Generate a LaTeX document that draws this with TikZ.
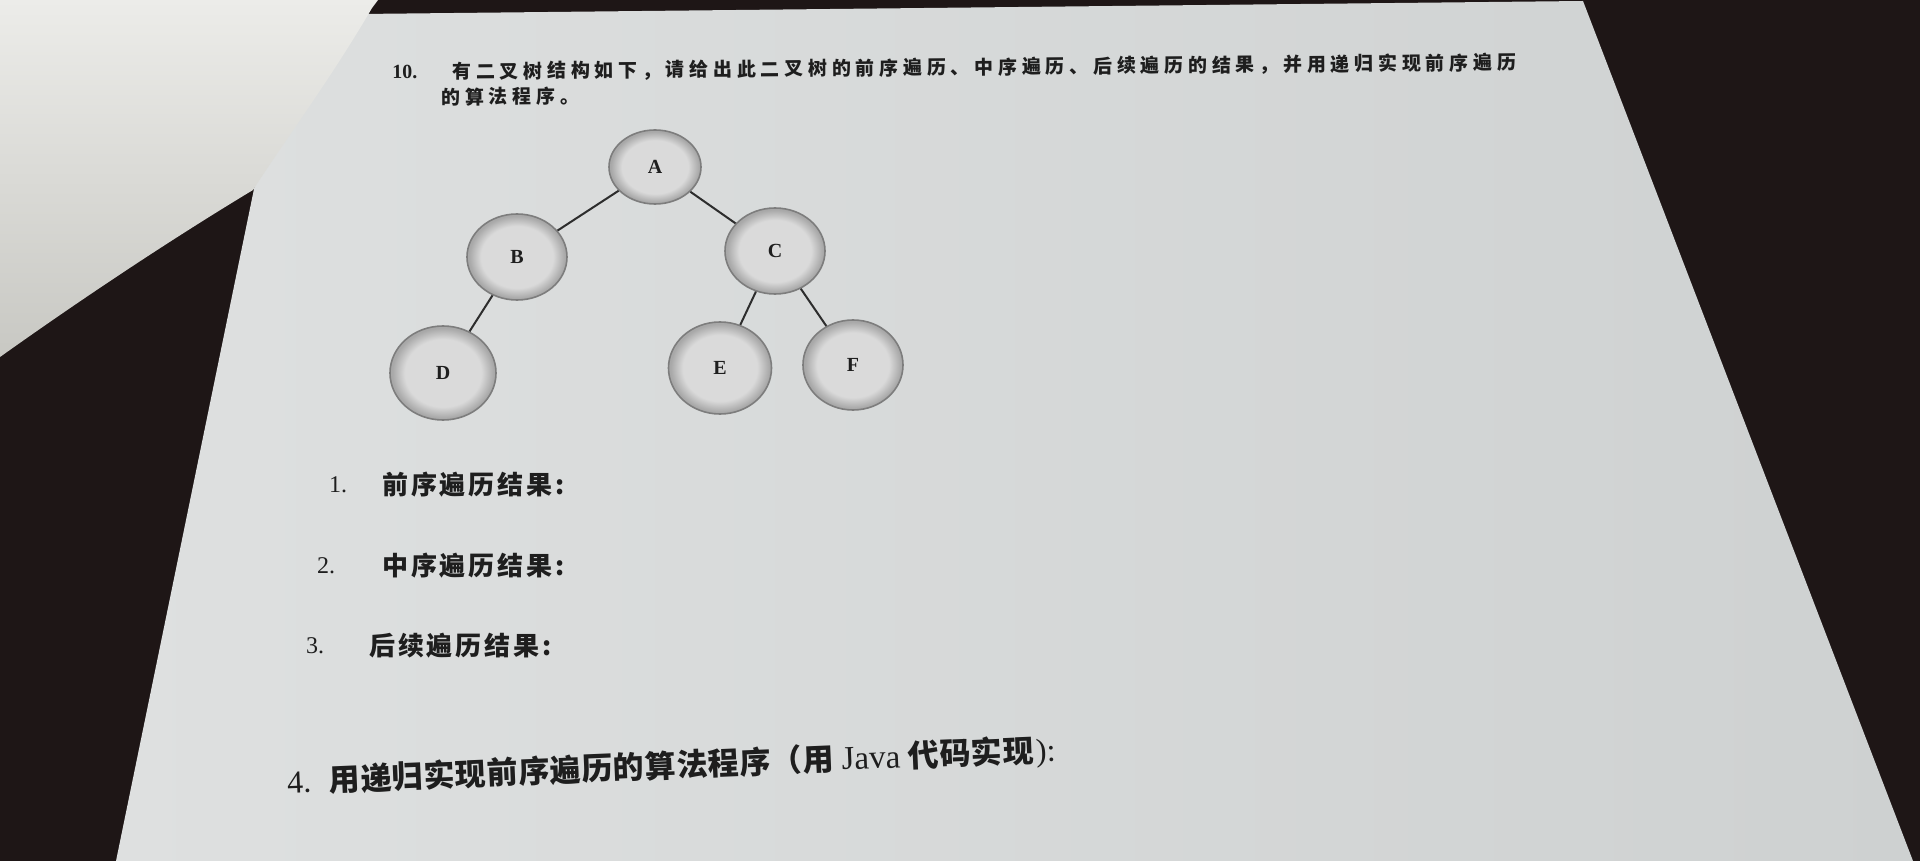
\documentclass[tikz,border=0pt]{standalone}
\usepackage{fontspec}
\setmainfont{Liberation Serif}
\newfontfamily\cjk{Noto Sans CJK SC}
\usetikzlibrary{shapes.geometric}

\definecolor{tablecol}{RGB}{30,22,22}
\definecolor{paperlight}{RGB}{222,224,224}
\definecolor{paperdark}{RGB}{206,209,209}
\definecolor{curltop}{RGB}{236,236,233}
\definecolor{curlbottom}{RGB}{200,200,195}
\definecolor{ballin}{RGB}{218,218,218}
\definecolor{ballrim}{RGB}{168,168,168}
\definecolor{ballline}{RGB}{125,125,125}
\definecolor{edgecol}{RGB}{45,45,45}
\definecolor{inkcol}{RGB}{30,30,30}

\pgfdeclareradialshading{ballshade}{\pgfpointorigin}{color(0bp)=(ballin); color(18bp)=(ballin); color(24bp)=(ballrim); color(25bp)=(ballrim); color(50bp)=(ballrim)}

\tikzset{
  treenode/.style={ellipse, draw=ballline, line width=1.6pt, shading=ballshade,
    minimum width=100pt, minimum height=86pt, inner sep=0pt, text=inkcol,
    font=\fontsize{20}{20}\selectfont\bfseries},
  treeedge/.style={draw=edgecol, line width=2pt},
  pagetext/.style={anchor=west, inner sep=0pt, text=inkcol},
}

\begin{document}
\begin{tikzpicture}[x=1pt,y=-1pt]
\useasboundingbox (0,0) rectangle (1920,861);
% table, sheet and the curled page
\fill[tablecol] (0,0) rectangle (1920,861);
\shade[left color=paperlight, right color=paperdark]
  (116,861) -- (262,150) -- (360,14) -- (1583,1) -- (1913,861) -- cycle;
\shade[top color=curltop, bottom color=curlbottom]
  (0,0) -- (378,0) -- (372,8) .. controls (330,80) and (285,140) .. (253,190)
  .. controls (170,240) and (80,300) .. (0,357) -- cycle;

% question text
\node[pagetext, font=\fontsize{20}{20}\selectfont\bfseries, rotate=0.5] (qnum) at (392,72) {10.};
\node[pagetext, rotate=0.5] (qline1) at (452,72)
  {\cjk\fontsize{19}{19}\selectfont\bfseries\addfontfeature{LetterSpace=25}有二叉树结构如下，请给出此二叉树的前序遍历、中序遍历、后续遍历的结果，并用递归实现前序遍历};
\node[pagetext, rotate=0.5] (qline2) at (441,97)
  {\cjk\fontsize{19}{19}\selectfont\bfseries\addfontfeature{LetterSpace=25}的算法程序。};

% the tree
\node[treenode, minimum width=92pt, minimum height=74pt] (A) at (655,167) {A};
\node[treenode] (B) at (517,257) {B};
\node[treenode] (C) at (775,251) {C};
\node[treenode, minimum width=106pt, minimum height=94pt] (D) at (443,373) {D};
\node[treenode, minimum width=103pt, minimum height=92pt] (E) at (720,368) {E};
\node[treenode, minimum height=90pt] (F) at (853,365) {F};
\draw[treeedge] (A) -- (B);
\draw[treeedge] (A) -- (C);
\draw[treeedge] (B) -- (D);
\draw[treeedge] (C) -- (E);
\draw[treeedge] (C) -- (F);

% answers
\node[pagetext, font=\fontsize{24}{24}\selectfont] (num1) at (329,485) {1.};
\node[pagetext] (pre) at (382,485)
  {\cjk\fontsize{26}{26}\selectfont\bfseries\addfontfeature{LetterSpace=11}前序遍历结果:};
\node[pagetext, font=\fontsize{24}{24}\selectfont] (num2) at (317,566) {2.};
\node[pagetext] (in) at (382,566)
  {\cjk\fontsize{26}{26}\selectfont\bfseries\addfontfeature{LetterSpace=11}中序遍历结果:};
\node[pagetext, font=\fontsize{24}{24}\selectfont] (num3) at (306,646) {3.};
\node[pagetext] (post) at (369,646)
  {\cjk\fontsize{26}{26}\selectfont\bfseries\addfontfeature{LetterSpace=11}后续遍历结果:};
\node[pagetext, rotate=2.4, font=\fontsize{32}{32}\selectfont] (code) at (287,783)
  {4.\hspace{18pt}{\cjk\fontsize{31}{31}\selectfont\bfseries\addfontfeature{LetterSpace=2}用递归实现前序遍历的算法程序（用 }%
   {\fontsize{33}{33}\selectfont Java} {\cjk\fontsize{31}{31}\selectfont\bfseries\addfontfeature{LetterSpace=2}代码实现}\hspace{2pt}):};
\end{tikzpicture}
\end{document}
